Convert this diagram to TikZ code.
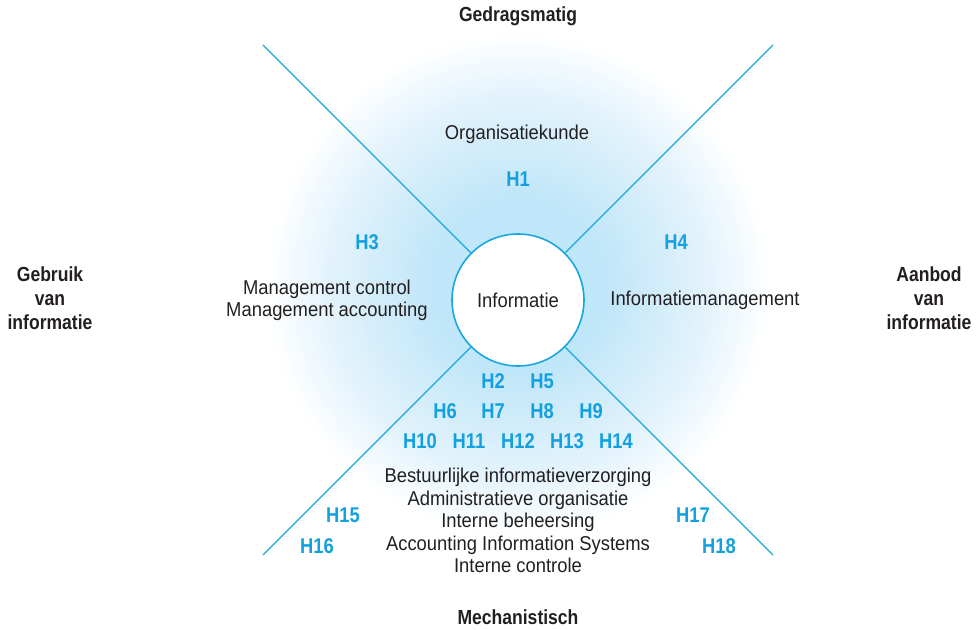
\documentclass[tikz,border=0pt]{standalone}
\usepackage{fontspec}
\setmainfont[FakeStretch=0.92]{Liberation Sans}
\newfontfamily\labfont[FakeStretch=0.86]{Liberation Sans}
\definecolor{cyanline}{HTML}{1AA6E0}
\definecolor{hblue}{HTML}{12A0DF}
\definecolor{ink}{HTML}{231F20}
\definecolor{glowa}{HTML}{C0E6F9}
\definecolor{glowb}{HTML}{D0ECFA}
\definecolor{glowc}{HTML}{E3F3FC}
\pgfdeclareradialshading{glowshade}{\pgfpoint{0bp}{0bp}}{color(0bp)=(glowa); color(65bp)=(glowa); color(100bp)=(glowb); color(142bp)=(glowc); color(188bp)=(white); color(200bp)=(white)}
\begin{document}
\begin{tikzpicture}[x=0.75pt,y=-0.75pt,
  txt/.style={font=\fontsize{15}{16.9}\selectfont, text=ink, inner sep=0pt, align=center},
  hlab/.style={font=\labfont\bfseries\fontsize{16}{17}\selectfont, text=hblue, inner sep=0pt, anchor=base},
  pole/.style={font=\labfont\bfseries\fontsize{15.3}{18}\selectfont, text=ink, inner sep=0pt, align=center},
  axis/.style={draw=cyanline, line width=0.9pt}]
\useasboundingbox (0,0) rectangle (976,630);
\begin{scope}
\clip (0,0) rectangle (976,630);
\node[inner sep=0pt, outer sep=0pt] (glow) at (518,285) {\pgfuseshading{glowshade}};
\end{scope}

\coordinate (tl) at (263,45);
\coordinate (tr) at (773,45);
\coordinate (bl) at (263,555);
\coordinate (br) at (773,555);
\node[circle, draw=cyanline, line width=1.2pt, fill=white, minimum size=99pt, txt] (info) at (518,300) {Informatie};
\draw[axis] (tl) -- (info);
\draw[axis] (tr) -- (info);
\draw[axis] (bl) -- (info);
\draw[axis] (br) -- (info);

\node[pole, anchor=base] (gedrag) at (518,22) {Gedragsmatig};
\node[pole, anchor=base] (mech) at (518,625) {Mechanistisch};
\node[pole, anchor=base] (gebruik) at (50,330) {Gebruik\\van\\informatie};
\node[pole, anchor=base] (aanbod) at (929,330) {Aanbod\\van\\informatie};

\node[txt, anchor=base] (org) at (517,140) {Organisatiekunde};
\node[txt, anchor=base] (mc) at (327,317) {Management control\\Management accounting};
\node[txt, anchor=base] (im) at (705,306) {Informatiemanagement};
\node[txt, anchor=base] (bif) at (518,573) {Bestuurlijke informatieverzorging\\Administratieve organisatie\\Interne beheersing\\Accounting Information Systems\\Interne controle};

\node[hlab] (h1) at (518,187) {H1};
\node[hlab] (h3) at (367,250) {H3};
\node[hlab] (h4) at (676,250) {H4};
\node[hlab] (h2) at (493,389) {H2};
\node[hlab] (h5) at (542,389) {H5};
\node[hlab] (h6) at (445,419) {H6};
\node[hlab] (h7) at (493,419) {H7};
\node[hlab] (h8) at (542,419) {H8};
\node[hlab] (h9) at (591,419) {H9};
\node[hlab] (h10) at (420,449) {H10};
\node[hlab] (h11) at (469,449) {H11};
\node[hlab] (h12) at (518,449) {H12};
\node[hlab] (h13) at (567,449) {H13};
\node[hlab] (h14) at (616,449) {H14};
\node[hlab] (h15) at (343,523) {H15};
\node[hlab] (h16) at (317,554) {H16};
\node[hlab] (h17) at (693,523) {H17};
\node[hlab] (h18) at (719,554) {H18};
\end{tikzpicture}
\end{document}
